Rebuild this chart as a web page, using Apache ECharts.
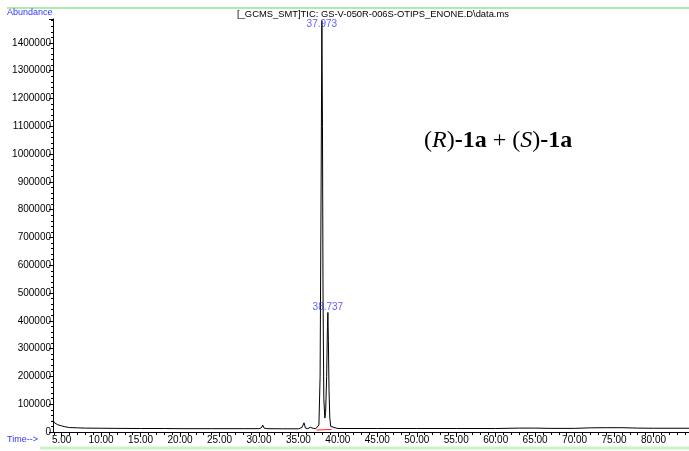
<!DOCTYPE html>
<html>
<head>
<meta charset="utf-8">
<script src="https://cdn.jsdelivr.net/npm/echarts@6/dist/echarts.min.js"></script>
<style>
  html, body { margin: 0; padding: 0; background: #fff; }
  #main { width: 689px; height: 451px; }
</style>
</head>
<body>
<div id="main"></div>
<script>
// TIC chromatogram
const times = [3.9, 4.0, 4.1, 4.25, 4.5, 5.0, 5.4, 6.0, 7.0, 8.0, 10.0, 12.0, 15.0, 18.0, 20.0, 24.0, 28.0,
  30.0, 30.3, 30.48, 30.65, 31.0, 33.0, 35.0, 35.45, 35.71, 35.9, 36.2, 36.5, 36.7, 36.9, 37.2, 37.45,
  37.6, 37.75, 37.88, 37.973, 38.05, 38.12, 38.22, 38.35, 38.45, 38.58, 38.68, 38.737, 38.8, 38.88,
  38.98, 39.1, 39.3, 40.0, 45.0, 50.0, 55.0, 60.0, 63.0, 65.0, 67.0, 70.0, 72.0, 74.0, 76.0, 78.0, 80.0, 84.5];
const abundance = [42000, 38000, 33000, 29000, 26000, 22000, 19000, 16000, 15000, 14000, 13500, 13000, 12500, 12500, 12000, 12000, 12000,
  12000, 15000, 25000, 14000, 12000, 11500, 11500, 16000, 33000, 14000, 12000, 17000, 12000, 13000, 12000, 14000,
  25000, 200000, 900000, 1480000, 1100000, 500000, 120000, 50000, 70000, 200000, 380000, 430000, 330000, 150000,
  50000, 20000, 13000, 12500, 12500, 12500, 12500, 12500, 14000, 14000, 13000, 13000, 15000, 15500, 15500, 14000, 13500, 13500];

// labelled peaks (retention time, abundance)
const peakTimes = [37.973, 38.737];
const peakHeights = [1480000, 430000];

// red integration baseline
const baseTimes = [37.3, 38.4, 39.2];
const baseValues = [7000, 8500, 9000];

const xLabelValues = [5, 10, 15, 20, 25, 30, 35, 40, 45, 50, 55, 60, 65, 70, 75, 80];
const xMinorValues = [];
for (let t = 4; t <= 84; t++) xMinorValues.push(t);

const chart = echarts.init(document.getElementById('main'));

const ticFont = 'Liberation Sans, Arial, sans-serif';
const serif = "'Liberation Serif', 'Times New Roman', serif";
const blue = '#3333ff';

const option = {
  animation: false,
  backgroundColor: '#fff',
  grid: { left: 53, right: 0, top: 19, bottom: 19, containLabel: false },
  xAxis: [{
    type: 'value',
    min: 3.9,
    max: 84.5,
    axisLine: { show: true, lineStyle: { color: '#000', width: 1 } },
    axisTick: { show: true, length: 5, customValues: xLabelValues, lineStyle: { color: '#000' } },
    axisLabel: {
      customValues: xLabelValues,
      formatter: v => v.toFixed(2),
      color: '#000', fontSize: 10, fontFamily: ticFont, margin: 3
    },
    splitLine: { show: false }
  }, {
    type: 'value',
    min: 3.9,
    max: 84.5,
    position: 'bottom',
    axisLine: { show: false },
    axisTick: { show: true, length: 3, customValues: xMinorValues, lineStyle: { color: '#000' } },
    axisLabel: { show: false },
    splitLine: { show: false }
  }],
  yAxis: {
    type: 'value',
    min: 0,
    max: 1486000,
    interval: 100000,
    axisLine: { show: true, lineStyle: { color: '#000', width: 1 } },
    axisTick: { show: true, length: 4, lineStyle: { color: '#000' } },
    minorTick: { show: true, splitNumber: 5, length: 2, lineStyle: { color: '#000' } },
    axisLabel: {
      showMaxLabel: false,
      color: '#000', fontSize: 10, fontFamily: ticFont, margin: 2,
      formatter: v => (v % 100000 === 0 ? String(v) : '')
    },
    splitLine: { show: false }
  },
  series: [{
    type: 'line',
    data: times.map((t, i) => [t, abundance[i]]),
    showSymbol: false,
    sampling: null,
    lineStyle: { color: '#000', width: 1 },
    z: 3
  }, {
    type: 'line',
    data: baseTimes.map((t, i) => [t, baseValues[i]]),
    showSymbol: false,
    lineStyle: { color: '#ff2020', width: 1 },
    z: 4
  }, {
    type: 'scatter',
    symbolSize: 0,
    data: peakTimes.map((t, i) => ({
      value: [t, peakHeights[i]],
      label: i === 0 ? { position: 'bottom', distance: -1 } : { position: 'top', distance: 0 }
    })),
    label: {
      show: true,
      formatter: p => p.value[0].toFixed(3),
      color: blue, fontSize: 10, fontFamily: ticFont
    },
    z: 5
  }],
  graphic: [{
    type: 'line', shape: { x1: 7, y1: 8, x2: 689, y2: 8 },
    style: { stroke: '#8ee88e', lineWidth: 1.5 }
  }, {
    type: 'line', shape: { x1: 40, y1: 448, x2: 689, y2: 448 },
    style: { stroke: '#c8f5c8', lineWidth: 3 }
  }, {
    type: 'text', left: 7, top: 8,
    style: { text: 'Abundance', fill: blue, font: '9px ' + ticFont }
  }, {
    type: 'text', left: 7, top: 435,
    style: { text: 'Time-->', fill: blue, font: '9px ' + ticFont }
  }, {
    type: 'text', x: 373, y: 14,
    style: {
      text: '[_GCMS_SMT]TIC: GS-V-050R-006S-OTIPS_ENONE.D\\data.ms',
      fill: '#000', font: '9.4px ' + ticFont, align: 'center', verticalAlign: 'middle'
    }
  }, {
    type: 'text', x: 424, y: 141,
    style: {
      text: '{n|(}{i|R}{n|)}{b|-1a}{n| + (}{i|S}{n|)}{b|-1a}',
      verticalAlign: 'middle',
      rich: {
        n: { fontFamily: serif, fontSize: 24, fill: '#000' },
        i: { fontFamily: serif, fontSize: 24, fontStyle: 'italic', fill: '#000' },
        b: { fontFamily: serif, fontSize: 24, fontWeight: 'bold', fill: '#000' }
      }
    }
  }]
};

chart.setOption(option);
</script>
</body>
</html>
